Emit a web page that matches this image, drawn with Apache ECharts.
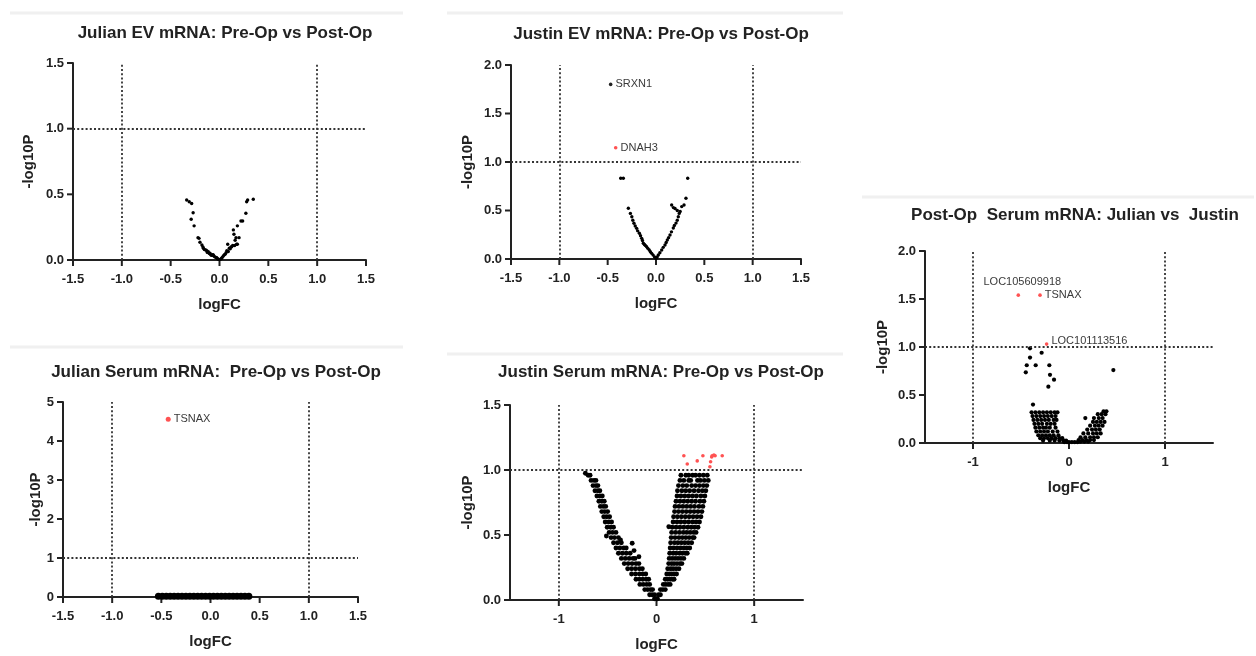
<!DOCTYPE html>
<html>
<head>
<meta charset="utf-8">
<title>Volcano plots</title>
<script src="https://cdn.jsdelivr.net/npm/echarts@6/dist/echarts.min.js"></script>
<style>
  html, body { margin: 0; padding: 0; background: #fff; }
  #main { width: 1256px; height: 656px; }
</style>
</head>
<body>
<div id="main"></div>
<script>
// ---------- data ----------
const xTicksHalf = [-1.5, -1, -0.5, 0, 0.5, 1, 1.5];
const xTicksWhole = [-1, 0, 1];
const yTicks15 = [0, 0.5, 1, 1.5];
const yTicks20 = [0, 0.5, 1, 1.5, 2];
const yTicks5 = [0, 1, 2, 3, 4, 5];
const cutoffFC = [-1, 1];
const cutoffP = 1;

// Julian EV mRNA: Pre-Op vs Post-Op  [logFC, -log10P]
const julianEvPoints = [
  [-0.336, 0.457], [-0.31, 0.444], [-0.285, 0.43], [-0.27, 0.36], [-0.29, 0.31], [-0.26, 0.26],
  [-0.22, 0.17], [-0.21, 0.165], [-0.2, 0.135], [-0.18, 0.114], [-0.17, 0.1], [-0.165, 0.089],
  [-0.155, 0.08], [-0.14, 0.076], [-0.13, 0.07], [-0.125, 0.058], [-0.115, 0.063], [-0.105, 0.05],
  [-0.097, 0.051], [-0.09, 0.04], [-0.08, 0.035], [-0.07, 0.04], [-0.063, 0.038], [-0.055, 0.028],
  [-0.045, 0.022], [-0.035, 0.02], [-0.029, 0.018], [-0.02, 0.01], [-0.01, 0.006], [0, 0.003],
  [0.01, 0.005], [0.02, 0.012], [0.028, 0.02], [0.039, 0.03], [0.05, 0.04], [0.06, 0.045],
  [0.067, 0.055], [0.075, 0.07], [0.084, 0.12], [0.09, 0.065], [0.1, 0.09], [0.11, 0.085],
  [0.118, 0.1], [0.125, 0.1], [0.135, 0.11], [0.142, 0.229], [0.148, 0.196], [0.155, 0.11],
  [0.16, 0.15], [0.169, 0.17], [0.175, 0.12], [0.183, 0.12], [0.183, 0.26], [0.2, 0.17],
  [0.22, 0.297], [0.237, 0.297], [0.27, 0.356], [0.278, 0.444], [0.288, 0.457], [0.346, 0.462]
];

// Justin EV mRNA: Pre-Op vs Post-Op
const justinEvPoints = [
  [-0.365, 0.832], [-0.338, 0.832], [0.328, 0.832], [0.31, 0.626], [-0.286, 0.523], [-0.265, 0.47],
  [-0.25, 0.436], [-0.24, 0.4], [-0.228, 0.368], [-0.215, 0.34], [-0.2, 0.316], [-0.19, 0.29],
  [-0.172, 0.265], [-0.16, 0.24], [-0.148, 0.213], [-0.14, 0.19], [-0.131, 0.162], [-0.12, 0.15],
  [-0.11, 0.14], [-0.097, 0.127], [-0.085, 0.11], [-0.07, 0.093], [-0.058, 0.075], [-0.045, 0.058],
  [-0.03, 0.04], [-0.015, 0.02], [0, 0.005], [0.012, 0.02], [0.024, 0.041], [0.04, 0.065],
  [0.059, 0.093], [0.075, 0.12], [0.093, 0.144], [0.105, 0.17], [0.117, 0.196], [0.13, 0.22],
  [0.145, 0.247], [0.16, 0.28], [0.179, 0.32], [0.19, 0.345], [0.207, 0.37], [0.22, 0.4],
  [0.231, 0.436], [0.24, 0.47], [0.162, 0.557], [0.18, 0.53], [0.197, 0.52], [0.22, 0.5],
  [0.25, 0.49], [0.266, 0.54], [0.29, 0.557]
];
const justinEvGenes = ['SRXN1', 'DNAH3'];
const justinEvGeneX = [-0.469, -0.417];
const justinEvGeneY = [1.80, 1.147];
const justinEvGeneSig = [false, true];

// Post-Op Serum mRNA: Julian vs Justin
const postOpOutliers = [
  [-0.406, 0.986], [-0.285, 0.94], [-0.406, 0.89], [-0.44, 0.81], [-0.347, 0.81], [-0.205, 0.81],
  [-0.45, 0.736], [-0.198, 0.71], [-0.156, 0.66], [-0.215, 0.587], [0.462, 0.76], [-0.375, 0.4]
];
// rows of the dense cluster: [-log10P, [logFC, ...]]
const postOpRows = [
  [0.33, [0.36, 0.39]],
  [0.32, [-0.39, -0.35, -0.31, -0.27, -0.23, -0.19, -0.15, -0.12]],
  [0.30, [0.3, 0.34, 0.38]],
  [0.28, [-0.38, -0.34, -0.3, -0.26, -0.22, -0.18, -0.14]],
  [0.26, [0.17, 0.26, 0.31, 0.35]],
  [0.24, [-0.37, -0.33, -0.29, -0.25, -0.21, -0.16, -0.13]],
  [0.22, [0.25, 0.29, 0.33, 0.37]],
  [0.20, [-0.36, -0.32, -0.28, -0.23, -0.19, -0.15]],
  [0.18, [0.22, 0.27, 0.31, 0.35]],
  [0.16, [-0.35, -0.31, -0.27, -0.24, -0.2, -0.14]],
  [0.14, [0.19, 0.24, 0.28, 0.32]],
  [0.12, [-0.34, -0.3, -0.26, -0.22, -0.17, -0.12]],
  [0.10, [0.15, 0.2, 0.25, 0.29, 0.33]],
  [0.08, [-0.32, -0.28, -0.24, -0.2, -0.16, -0.11]],
  [0.06, [0.12, 0.17, 0.22, 0.26, 0.3]],
  [0.05, [-0.3, -0.26, -0.22, -0.18, -0.14, -0.1, -0.07]],
  [0.03, [0.1, 0.14, 0.18, 0.22, 0.26]],
  [0.025, [-0.27, -0.2, -0.15, -0.1, -0.06, -0.03]],
  [0.015, [0.12, 0.16, 0.2]],
  [0.01, [-0.05, -0.02, 0, 0.03, 0.06, 0.09]]
];
const postOpGenes = ['LOC105609918', 'TSNAX', 'LOC101113516'];
const postOpGeneX = [-0.528, -0.302, -0.233];
const postOpGeneY = [1.54, 1.54, 1.03];
const postOpGeneSig = [true, true, true];

// Julian Serum mRNA: Pre-Op vs Post-Op (everything sits on the axis except TSNAX)
const julianSerumRows = [
  [0.02, [-0.53, -0.49, -0.45, -0.41, -0.37, -0.33, -0.29, -0.25, -0.21, -0.17, -0.13, -0.09,
          -0.05, -0.01, 0.03, 0.07, 0.11, 0.15, 0.19, 0.23, 0.27, 0.31, 0.35, 0.39]]
];
const julianSerumGenes = ['TSNAX'];
const julianSerumGeneX = [-0.43];
const julianSerumGeneY = [4.56];
const julianSerumGeneSig = [true];

// Justin Serum mRNA: Pre-Op vs Post-Op
const justinSerumRows = [
  [0.96, [-0.70, -0.68, 0.25, 0.3, 0.33, 0.37, 0.4, 0.44, 0.48, 0.52]],
  [0.92, [-0.67, -0.64, -0.62, 0.24, 0.28, 0.33, 0.35, 0.42, 0.45, 0.49, 0.53]],
  [0.88, [-0.65, -0.62, -0.6, 0.225, 0.27, 0.31, 0.36, 0.4, 0.44, 0.48, 0.515]],
  [0.84, [-0.63, -0.6, -0.58, 0.215, 0.26, 0.3, 0.34, 0.385, 0.43, 0.47, 0.505]],
  [0.80, [-0.61, -0.58, -0.555, 0.21, 0.25, 0.29, 0.33, 0.37, 0.41, 0.455, 0.495]],
  [0.76, [-0.59, -0.56, -0.535, 0.2, 0.24, 0.28, 0.32, 0.36, 0.4, 0.445, 0.485]],
  [0.72, [-0.575, -0.545, -0.52, 0.19, 0.23, 0.27, 0.31, 0.35, 0.39, 0.435, 0.475]],
  [0.68, [-0.56, -0.53, -0.5, 0.185, 0.225, 0.265, 0.305, 0.345, 0.385, 0.425, 0.465]],
  [0.64, [-0.54, -0.51, -0.48, 0.175, 0.215, 0.255, 0.295, 0.335, 0.375, 0.415, 0.455]],
  [0.60, [-0.525, -0.49, -0.46, 0.17, 0.21, 0.25, 0.29, 0.33, 0.37, 0.405, 0.44]],
  [0.56, [-0.505, -0.47, -0.44, 0.16, 0.2, 0.24, 0.28, 0.32, 0.355, 0.39, 0.425]],
  [0.52, [-0.485, -0.45, -0.415, 0.155, 0.195, 0.235, 0.275, 0.31, 0.345, 0.38, 0.405]],
  [0.48, [-0.465, -0.43, -0.39, 0.15, 0.19, 0.23, 0.265, 0.3, 0.335, 0.37, 0.385]],
  [0.44, [-0.44, -0.4, -0.36, 0.145, 0.185, 0.22, 0.255, 0.29, 0.325, 0.36]],
  [0.40, [-0.415, -0.375, -0.335, -0.31, 0.14, 0.175, 0.21, 0.245, 0.28, 0.31, 0.34]],
  [0.36, [-0.39, -0.35, -0.31, -0.27, 0.135, 0.17, 0.2, 0.235, 0.265, 0.295, 0.315]],
  [0.32, [-0.36, -0.32, -0.28, -0.24, -0.22, 0.13, 0.16, 0.19, 0.22, 0.25, 0.28]],
  [0.28, [-0.33, -0.29, -0.25, -0.21, -0.18, 0.125, 0.155, 0.18, 0.21, 0.24, 0.26]],
  [0.24, [-0.295, -0.255, -0.215, -0.175, -0.145, 0.115, 0.145, 0.17, 0.2, 0.23]],
  [0.20, [-0.255, -0.215, -0.175, -0.14, -0.11, 0.105, 0.13, 0.155, 0.18, 0.205]],
  [0.16, [-0.21, -0.175, -0.14, -0.105, -0.08, 0.09, 0.115, 0.14, 0.165, 0.18]],
  [0.12, [-0.17, -0.135, -0.1, -0.07, 0.07, 0.095, 0.12, 0.14]],
  [0.08, [-0.12, -0.09, -0.06, -0.04, 0.04, 0.065, 0.09]],
  [0.04, [-0.07, -0.045, -0.02, 0.02, 0.04]],
  [0.01, [-0.02, 0, 0.01]]
];
const justinSerumOutliers = [
  [-0.728, 0.975], [-0.513, 0.492], [-0.369, 0.462], [-0.249, 0.436], [-0.23, 0.38],
  [-0.18, 0.333], [0.126, 0.564]
];
const justinSerumSig = [
  [0.28, 1.11], [0.475, 1.11], [0.57, 1.11], [0.588, 1.115], [0.673, 1.11], [0.315, 1.046],
  [0.417, 1.07], [0.554, 1.064], [0.565, 1.1], [0.547, 1.025], [0.6, 1.11]
];

// ---------- chart ----------
const FONT = "'Liberation Sans', Arial, sans-serif";
const INK = '#222';
const RED = '#ff5252';
const X_MIN = -1.5;

function rowsToPoints(rows) {
  const out = [];
  rows.forEach(function (r) {
    r[1].forEach(function (x) { out.push([x, r[0]]); });
  });
  return out;
}
function genePoints(names, xs, ys, sig) {
  return names.map(function (n, i) {
    return { name: n, value: [xs[i], ys[i]], sig: sig[i] };
  });
}
function fixed(dec) {
  return function (v) {
    let n = v;
    if (v !== null && typeof v === 'object') n = v.value;
    n = Number(n);
    if (!isFinite(n)) return '';
    return dec === 0 ? String(Math.round(n)) : n.toFixed(dec);
  };
}
// label placement tweaks for the gene labels
const labelPlace = {
  LOC105609918: { position: 'top', offset: [4, -3] },
  LOC101113516: { position: 'right', offset: [0, -3] }
};

const panels = [
  {
    title: 'Julian EV mRNA: Pre-Op vs Post-Op', tx: 220, ty: 20,
    grid: { left: 73, top: 63, width: 293, height: 197 },
    yMax: 1.5, yStep: 0.5, yDec: 1, yTicks: yTicks15, whole: false, yGap: 37,
    points: julianEvPoints, red: [], genes: [], size: 3.4
  },
  {
    title: 'Justin EV mRNA: Pre-Op vs Post-Op', tx: 656, ty: 21,
    grid: { left: 511, top: 65, width: 290, height: 194 },
    yMax: 2, yStep: 0.5, yDec: 1, yTicks: yTicks20, whole: false, yGap: 36,
    points: justinEvPoints, red: [],
    genes: genePoints(justinEvGenes, justinEvGeneX, justinEvGeneY, justinEvGeneSig), size: 3.4
  },
  {
    title: 'Post-Op  Serum mRNA: Julian vs  Justin', tx: 1070, ty: 202,
    grid: { left: 925, top: 251, width: 288, height: 192 },
    yMax: 2, yStep: 0.5, yDec: 1, yTicks: yTicks20, whole: true, yGap: 35,
    points: postOpOutliers.concat(rowsToPoints(postOpRows)), red: [],
    genes: genePoints(postOpGenes, postOpGeneX, postOpGeneY, postOpGeneSig), size: 4.2
  },
  {
    title: 'Julian Serum mRNA:  Pre-Op vs Post-Op', tx: 211, ty: 359,
    grid: { left: 63, top: 402, width: 295, height: 195 },
    yMax: 5, yStep: 1, yDec: 0, yTicks: yTicks5, whole: false, yGap: 19,
    points: rowsToPoints(julianSerumRows), red: [],
    genes: genePoints(julianSerumGenes, julianSerumGeneX, julianSerumGeneY, julianSerumGeneSig),
    size: 7, geneSize: 5
  },
  {
    title: 'Justin Serum mRNA: Pre-Op vs Post-Op', tx: 656, ty: 359,
    grid: { left: 510, top: 405, width: 293, height: 195 },
    yMax: 1.5, yStep: 0.5, yDec: 1, yTicks: yTicks15, whole: true, yGap: 35,
    points: rowsToPoints(justinSerumRows).concat(justinSerumOutliers), red: justinSerumSig,
    genes: [], size: 4.9
  }
];

const option = {
  animation: false,
  backgroundColor: '#fff',
  title: [], grid: [], xAxis: [], yAxis: [], series: [],
  graphic: []
};

// faint separators above each panel
[[10, 403, 13], [447, 843, 13], [862, 1254, 197], [10, 403, 347], [447, 843, 354]].forEach(function (s) {
  option.graphic.push({
    type: 'line', silent: true,
    shape: { x1: s[0], y1: s[2], x2: s[1], y2: s[2] },
    style: { stroke: '#f0f0f0', lineWidth: 3 }
  });
});

panels.forEach(function (p, i) {
  option.title.push({
    text: p.title, left: p.tx, top: p.ty, textAlign: 'center',
    textStyle: { fontFamily: FONT, fontSize: 17, fontWeight: 'bold', color: INK }
  });
  option.grid.push(Object.assign({}, p.grid));

  const xTicks = p.whole ? xTicksWhole : xTicksHalf;

  option.xAxis.push({
    gridIndex: i, type: 'value', min: X_MIN, max: 1.5, interval: 0.5,
    name: 'logFC', nameLocation: 'middle', nameGap: 37,
    nameTextStyle: { fontFamily: FONT, fontSize: 15, fontWeight: 'bold', color: INK },
    axisLine: { show: true, onZero: false, lineStyle: { color: INK, width: 2 } },
    axisTick: { show: false },
    splitLine: { show: false },
    axisLabel: {
      customValues: xTicks,
      margin: 13, fontFamily: FONT, fontSize: 13, fontWeight: 'bold', color: INK,
      formatter: fixed(p.whole ? 0 : 1)
    }
  });

  option.yAxis.push({
    gridIndex: i, type: 'value', min: 0, max: p.yMax, interval: p.yStep,
    name: '-log10P', nameLocation: 'middle', nameGap: p.yGap,
    nameTextStyle: { fontFamily: FONT, fontSize: 15, fontWeight: 'bold', color: INK },
    axisLine: { show: true, onZero: false, lineStyle: { color: INK, width: 2 } },
    axisTick: { show: false },
    splitLine: { show: false },
    axisLabel: {
      customValues: p.yTicks,
      margin: 9, fontFamily: FONT, fontSize: 13, fontWeight: 'bold', color: INK,
      formatter: fixed(p.yDec)
    }
  });

  // tick marks: short bars placed at the tick values through the axis scales
  option.series.push({
    type: 'scatter', xAxisIndex: i, yAxisIndex: i, silent: true, clip: false,
    symbol: 'rect', symbolSize: [2, 6], symbolOffset: [0, 3],
    itemStyle: { color: INK, opacity: 1 },
    data: xTicks.map(function (v) { return [v, 0]; }), z: 2
  });
  option.series.push({
    type: 'scatter', xAxisIndex: i, yAxisIndex: i, silent: true, clip: false,
    symbol: 'rect', symbolSize: [6, 2], symbolOffset: [-3, 0],
    itemStyle: { color: INK, opacity: 1 },
    data: p.yTicks.map(function (v) { return [X_MIN, v]; }), z: 2
  });

  option.series.push({
    type: 'scatter', xAxisIndex: i, yAxisIndex: i, silent: true,
    symbolSize: p.size, itemStyle: { color: '#000', opacity: 1 },
    data: p.points,
    markLine: {
      silent: true, symbol: ['none', 'none'], label: { show: false },
      lineStyle: { type: [2, 2.2], color: '#333', width: 1.8 },
      data: cutoffFC.map(function (v) { return { xAxis: v }; }).concat([{ yAxis: cutoffP }])
    },
    z: 3
  });
  if (p.red.length) {
    option.series.push({
      type: 'scatter', xAxisIndex: i, yAxisIndex: i, silent: true,
      symbolSize: 3.6, itemStyle: { color: RED, opacity: 1 }, data: p.red, z: 4
    });
  }
  if (p.genes.length) {
    option.series.push({
      type: 'scatter', xAxisIndex: i, yAxisIndex: i, silent: true,
      symbolSize: p.geneSize || 3.6,
      data: p.genes.map(function (g) {
        const place = labelPlace[g.name] || { position: 'right', offset: [0, 0] };
        return {
          name: g.name, value: g.value,
          itemStyle: { color: g.sig ? RED : '#222', opacity: 1 },
          label: { position: place.position, offset: place.offset }
        };
      }),
      label: {
        show: true, position: 'right', distance: 3,
        formatter: '{b}', fontFamily: FONT, fontSize: 11, color: '#3a3a3a'
      },
      z: 5
    });
  }
});

const chart = echarts.init(document.getElementById('main'));
chart.setOption(option);
</script>
</body>
</html>
